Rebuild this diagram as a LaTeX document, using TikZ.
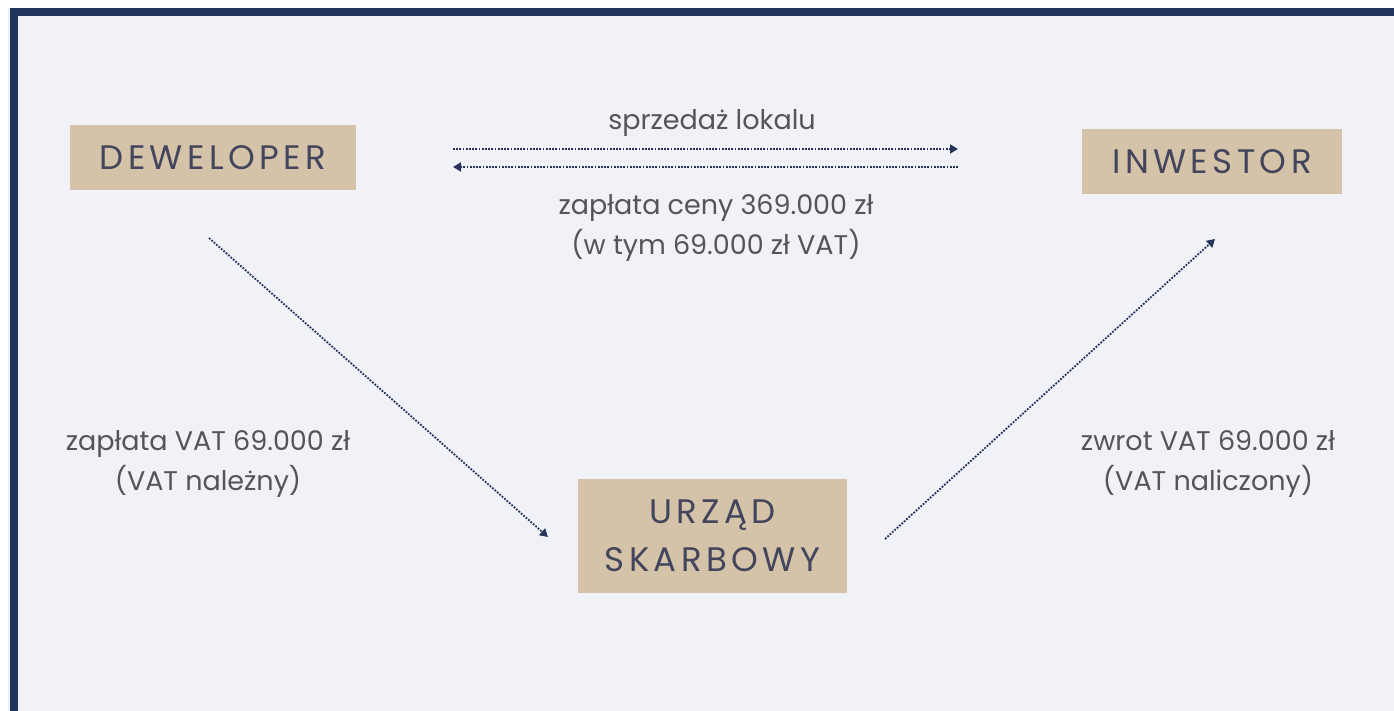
\documentclass[tikz,border=0pt]{standalone}
\usepackage{fontspec}
\setmainfont{Poppins}
\usepackage{xcolor}
\usetikzlibrary{positioning,arrows.meta,calc}
\definecolor{framec}{RGB}{31,53,89}
\definecolor{paperc}{RGB}{240,242,247}
\definecolor{boxc}{RGB}{213,195,169}
\definecolor{inkc}{RGB}{66,69,92}
\definecolor{textc}{RGB}{84,84,90}
\definecolor{arrowc}{RGB}{36,53,89}
\tikzset{
  party/.style = {fill=boxc, text=inkc, align=center, inner sep=0pt,
                  font=\fontsize{17}{24}\selectfont\addfontfeatures{LetterSpace=13}},
  lbl/.style   = {text=textc, align=center, inner sep=0pt,
                  font=\fontsize{13.5}{20}\selectfont},
  flow/.style  = {-{Triangle[length=4pt,width=4.5pt]}, draw=arrowc, line width=0.9pt,
                  dash pattern=on 0.9pt off 0.7pt},
}
\begin{document}
\begin{tikzpicture}[x=0.5pt,y=0.5pt]
\useasboundingbox (0,0) rectangle (1394,711);

% --- frame --------------------------------------------------------------
\fill[white] (0,0) rectangle (1394,711);
\fill[paperc] (8,0) rectangle (1394,703);
\fill[framec] (11,695) rectangle (1394,703);
\fill[framec] (10,0) rectangle (18,703);

% --- parties ------------------------------------------------------------
\node[party, minimum width=143pt, minimum height=32.5pt] (dev) at (213,553.5) {DEWELOPER};
\node[party, minimum width=130pt, minimum height=32.5pt] (inv) at (1212,549.5) {INWESTOR};
\node[party, minimum width=134.5pt, minimum height=57pt] (tax) at (712.5,175) {URZĄD\\SKARBOWY};

% --- flow ends ----------------------------------------------------------
\coordinate (saleS) at (453,562);
\coordinate (saleE) at (958,562);
\coordinate (payS)  at (958,544);
\coordinate (payE)  at (453,544);
\coordinate (devO)  at (209,473);
\coordinate (taxI)  at (548,174);
\coordinate (taxO)  at (885,172);
\coordinate (invI)  at (1215,472);

% --- flows --------------------------------------------------------------
\draw[flow] (saleS) -- (saleE);
\draw[flow] (payS) -- (payE);
\draw[flow] (devO) -- (taxI);
\draw[flow] (taxO) -- (invI);

% --- labels -------------------------------------------------------------
\node[lbl] (saleL) at (712,588) {sprzedaż lokalu};
\node[lbl] (payL) at (716,483) {zapłata ceny 369.000 zł\\(w tym 69.000 zł VAT)};
\node[lbl] (dueL) at (208,247) {zapłata VAT 69.000 zł\\(VAT należny)};
\node[lbl] (refL) at (1208,247) {zwrot VAT 69.000 zł\\(VAT naliczony)};

\end{tikzpicture}
\end{document}
